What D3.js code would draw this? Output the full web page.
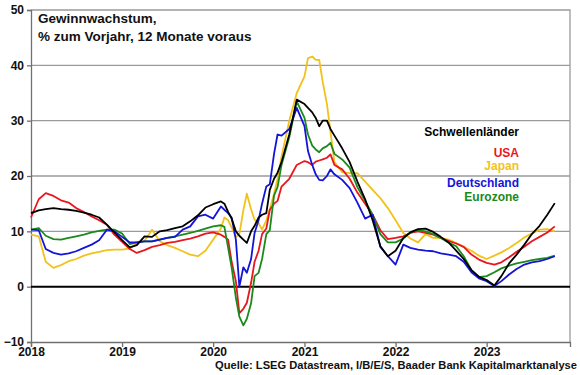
<!DOCTYPE html>
<html>
<head>
<meta charset="utf-8">
<script src="https://d3js.org/d3.v7.min.js"></script>
<style>
  body { margin: 0; background: #fff; }
  text { font-family: "Liberation Sans", Arial, sans-serif; font-weight: bold; }
</style>
</head>
<body>
<div id="chart"></div>
<script>
// Dates (monthly, plus mid-month points in the fast 2020/2021 phases)
var dates = [
  "2018-01-01","2018-02-01","2018-03-01","2018-04-01","2018-05-01","2018-06-01","2018-07-01","2018-08-01","2018-09-01","2018-10-01","2018-11-01","2018-12-01",
  "2019-01-01","2019-02-01","2019-03-01","2019-04-01","2019-05-01","2019-06-01","2019-07-01","2019-08-01","2019-09-01","2019-10-01","2019-11-01","2019-12-01",
  "2020-01-01","2020-02-01","2020-02-15","2020-03-01","2020-03-15","2020-04-01","2020-04-15","2020-05-01","2020-05-15","2020-06-01","2020-06-15","2020-07-01","2020-07-15","2020-08-01","2020-08-15","2020-09-01","2020-09-15","2020-10-01","2020-11-01","2020-12-01",
  "2021-01-01","2021-01-15","2021-02-01","2021-02-15","2021-03-01","2021-03-15","2021-04-01","2021-04-15","2021-05-01","2021-06-01","2021-07-01","2021-08-01","2021-09-01","2021-10-01","2021-11-01","2021-12-01",
  "2022-01-01","2022-02-01","2022-03-01","2022-04-01","2022-05-01","2022-06-01","2022-07-01","2022-08-01","2022-09-01","2022-10-01","2022-11-01","2022-12-01",
  "2023-01-01","2023-02-01","2023-03-01","2023-04-01","2023-05-01","2023-06-01","2023-07-01","2023-08-01","2023-09-01","2023-10-01"
];

// Series values (% growth, 12 months forward)
var schwellen = [
  13.3, 13.8, 14.0, 14.2, 14.0, 13.9, 13.7, 13.4, 13.0, 12.5, 11.2, 9.8,
  8.4, 7.1, 7.5, 9.1, 9.0, 10.0, 10.2, 10.6, 10.9, 11.8, 12.9, 14.3,
  14.9, 15.4, 15.0, 13.5, 12.3, 10.0, 9.2, 8.5, 7.9, 10.0, 11.0, 12.5, 13.0, 13.3, 17.5, 19.5, 20.6, 22.5, 27.5, 33.8,
  33.0, 32.3, 31.5, 30.5, 29.0, 30.0, 30.0, 28.5, 27.3, 25.0, 22.5, 19.0, 15.8, 12.0, 7.3, 5.5,
  6.5, 8.8, 9.8, 10.4, 10.5, 9.9, 9.0, 8.0, 6.5, 5.0, 3.0, 1.8,
  1.2, 0.2, 1.9, 4.2, 5.8, 7.6, 9.5, 11.0, 13.0, 15.1
];
var usa = [
  12.5, 15.8, 16.9, 16.4, 15.6, 15.2, 14.2, 13.5, 12.7, 12.0, 11.2, 9.4,
  8.1, 6.8, 6.1, 6.6, 7.2, 7.5, 7.9, 8.1, 8.4, 8.7, 9.1, 9.6,
  9.8, 9.4, 9.0, 8.5, 4.5, 1.0, -4.8, -4.0, -2.9, 0.7, 4.5, 6.5, 9.5, 10.5, 13.9, 15.0, 15.5, 18.1, 19.5, 22.0,
  22.7, 22.5, 22.0, 22.6, 22.8, 23.0, 23.3, 23.9, 22.0, 21.2, 19.5, 17.0, 15.0, 13.0, 10.2, 8.6,
  8.8, 9.1, 9.7, 10.0, 9.7, 9.4, 8.8, 8.3, 7.8, 7.2, 5.8, 4.9,
  4.3, 4.0, 4.4, 5.3, 6.3, 7.2, 8.2, 9.0, 9.8, 10.9
];
var japan = [
  9.4, 9.1, 4.5, 3.4, 3.9, 4.6, 5.0, 5.6, 6.0, 6.3, 6.6, 6.7,
  6.7, 6.9, 7.8, 8.3, 10.3, 8.2, 7.5, 7.0, 6.4, 5.8, 5.5, 6.5,
  8.5, 10.5, 12.5, 12.0, 10.7, 9.0, 9.5, 13.8, 16.8, 14.0, 12.1, 11.5, 10.3, 12.0, 14.0, 16.8, 19.5, 23.5, 30.0, 35.0,
  38.0, 41.3, 41.6, 41.0, 41.0, 37.0, 33.0, 28.0, 22.5, 20.7, 20.5, 20.5, 19.0, 17.5, 16.0, 14.2,
  12.0, 9.7, 8.7, 8.0, 9.5, 8.8, 8.8, 8.5, 7.9, 7.2, 6.5, 5.6,
  5.0, 5.6, 6.2, 7.0, 7.9, 8.9, 9.6, 10.3, 10.4, 10.0
];
var deutschland = [
  10.3, 10.2, 6.8, 6.1, 5.8, 6.0, 6.4, 7.0, 7.6, 8.4, 10.3, 10.0,
  9.0, 8.0, 8.0, 8.2, 8.2, 8.5, 8.8, 9.0, 10.3, 10.9, 12.7, 13.0,
  12.3, 14.5, 13.9, 13.3, 12.5, 8.5, 0.0, 3.5, 2.5, 5.0, 9.7, 12.0, 15.0, 18.1, 18.5, 24.0, 27.5, 27.3, 28.5, 32.3,
  29.0, 24.5, 22.0, 20.3, 19.3, 19.2, 20.0, 21.2, 20.3, 19.3, 17.8, 15.2, 12.3, 13.0, 7.2, 5.5,
  4.0, 7.6, 7.0, 6.7, 6.5, 6.4, 6.0, 5.8, 5.5, 4.5, 2.6, 1.5,
  1.0, 0.1, 1.0, 2.2, 3.2, 4.0, 4.4, 4.6, 5.0, 5.5
];
var eurozone = [
  10.3, 10.6, 9.2, 8.6, 8.5, 8.8, 9.1, 9.4, 9.8, 10.1, 10.3, 10.3,
  9.6, 7.7, 8.0, 8.2, 8.2, 8.5, 8.8, 9.1, 9.4, 9.7, 10.1, 10.5,
  10.9, 11.1, 10.8, 7.0, 3.5, -2.0, -5.4, -7.0, -5.8, -3.0, 1.9, 2.5, 5.0, 9.5, 10.2, 16.5, 18.0, 22.0, 27.0, 33.5,
  30.5, 27.5, 25.5, 24.8, 24.3, 25.0, 25.4, 26.0, 24.0, 23.0, 21.5, 18.0, 15.5, 13.0, 9.5, 8.0,
  8.0, 8.7, 9.8, 10.2, 10.0, 9.5, 8.8, 8.0, 7.3, 5.5, 3.0, 1.7,
  1.9, 2.6, 3.3, 3.8, 4.2, 4.5, 4.8, 5.0, 5.2, 5.6
];

// Labels and ticks
var seriesNames = ["Schwellenländer", "USA", "Japan", "Deutschland", "Eurozone"];
var yTicks = [-10, 0, 10, 20, 30, 40, 50];
var xTicks = ["2018", "2019", "2020", "2021", "2022", "2023"];

// svg size and margins
var svgWidth = 580;
var svgHeight = 375;
var margin = { top: 10, right: 10, bottom: 33, left: 31 };
var width = svgWidth - margin.left - margin.right;
var height = svgHeight - margin.top - margin.bottom;

var svg = d3.select("#chart")
  .append("svg")
  .attr("width", svgWidth)
  .attr("height", svgHeight);

var chartGroup = svg.append("g")
  .attr("transform", `translate(${margin.left}, ${margin.top})`);

var parseDate = d3.timeParse("%Y-%m-%d");
var parseYear = d3.timeParse("%Y");
var dateValues = dates.map(parseDate);

// scales
var xScale = d3.scaleTime()
  .domain([parseDate("2018-01-01"), parseDate("2023-12-01")])
  .range([0, width]);
var yScale = d3.scaleLinear()
  .domain([-10, 50])
  .range([height, 0]);

// gridlines
chartGroup.append("g")
  .selectAll("line")
  .data(yTicks.filter(d => d > 0 && d < 50))
  .enter()
  .append("line")
  .attr("x1", 0)
  .attr("x2", width)
  .attr("y1", d => yScale(d))
  .attr("y2", d => yScale(d))
  .attr("stroke", "#9a9a9a")
  .attr("stroke-width", 1.3);

// top and right frame
chartGroup.append("path")
  .attr("d", `M0,${yScale(50)}H${width}V${height}`)
  .attr("fill", "none")
  .attr("stroke", "#9a9a9a")
  .attr("stroke-width", 1.3);

// axes
var leftAxis = d3.axisLeft(yScale)
  .tickValues(yTicks)
  .tickSize(4)
  .tickPadding(3);
var bottomAxis = d3.axisBottom(xScale)
  .tickValues(xTicks.map(parseYear))
  .tickFormat(d3.timeFormat("%Y"))
  .tickSize(5)
  .tickPadding(0);

var yAxisG = chartGroup.append("g").call(leftAxis);
var xAxisG = chartGroup.append("g")
  .attr("transform", `translate(0, ${height})`)
  .call(bottomAxis);

[yAxisG, xAxisG].forEach(g => {
  g.select(".domain").attr("stroke", "#707070").attr("stroke-width", 1.3);
  g.selectAll(".tick line").attr("stroke", "#707070").attr("stroke-width", 1.3);
  g.selectAll(".tick text")
    .attr("fill", "#111")
    .style("font-size", "12px")
    .style("font-family", "'Liberation Sans', Arial, sans-serif")
    .style("font-weight", "bold");
});

// zero line
chartGroup.append("line")
  .attr("x1", 0)
  .attr("x2", width)
  .attr("y1", yScale(0))
  .attr("y2", yScale(0))
  .attr("stroke", "#000")
  .attr("stroke-width", 2);

// lines
var series = [
  { name: "Japan", values: japan, color: "#f2c21b" },
  { name: "USA", values: usa, color: "#e8161e" },
  { name: "Eurozone", values: eurozone, color: "#1b8a1b" },
  { name: "Deutschland", values: deutschland, color: "#1414d8" },
  { name: "Schwellenländer", values: schwellen, color: "#000000" }
];

var line = d3.line()
  .x((d, i) => xScale(dateValues[i]))
  .y(d => yScale(d));

chartGroup.selectAll(".series")
  .data(series)
  .enter()
  .append("path")
  .attr("class", "series")
  .attr("d", d => line(d.values))
  .attr("fill", "none")
  .attr("stroke", d => d.color)
  .attr("stroke-width", 1.8)
  .attr("stroke-linejoin", "round");

// title
var title = svg.append("text")
  .attr("x", 38)
  .attr("y", 23)
  .style("font-size", "13.5px")
  .attr("fill", "#111");
title.append("tspan").attr("x", 38).text("Gewinnwachstum,");
title.append("tspan").attr("x", 38).attr("dy", 18).text("% zum Vorjahr, 12 Monate voraus");

// legend labels (right aligned)
var legendColors = { "Schwellenländer": "#000000", "USA": "#e8161e", "Japan": "#f2c21b", "Deutschland": "#1414d8", "Eurozone": "#1b8a1b" };
var legendY = [136, 157, 170, 187, 201];
svg.selectAll(".legend")
  .data(seriesNames)
  .enter()
  .append("text")
  .attr("class", "legend")
  .attr("x", 519)
  .attr("y", (d, i) => legendY[i])
  .attr("text-anchor", "end")
  .style("font-size", "12px")
  .attr("fill", d => legendColors[d])
  .text(d => d);

// source
svg.append("text")
  .attr("x", 577)
  .attr("y", 369)
  .attr("text-anchor", "end")
  .attr("textLength", 362)
  .attr("lengthAdjust", "spacingAndGlyphs")
  .style("font-family", "'Liberation Sans Narrow', 'Arial Narrow', 'Liberation Sans', sans-serif")
  .style("font-size", "11.5px")
  .attr("fill", "#111")
  .text("Quelle: LSEG Datastream, I/B/E/S, Baader Bank Kapitalmarktanalyse");
</script>
</body>
</html>
